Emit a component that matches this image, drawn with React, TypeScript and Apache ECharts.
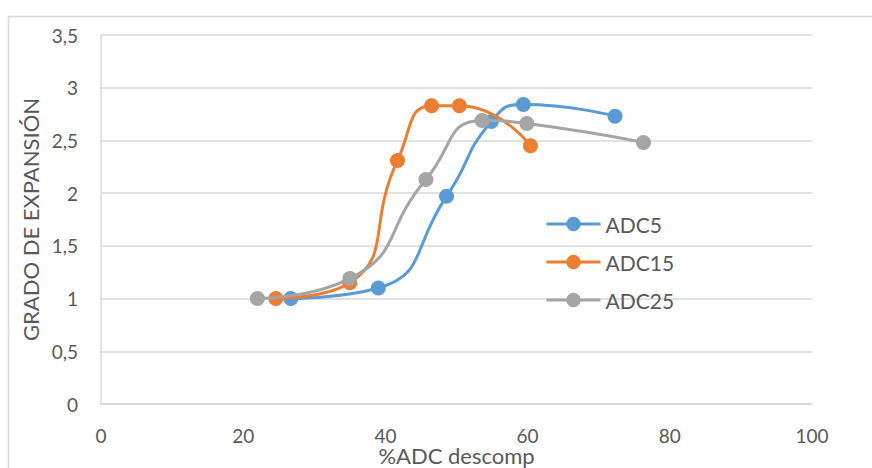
import React, { useEffect, useRef } from "react";
import * as echarts from "echarts";

// %ADC descomp (x) vs grado de expansión (y) for each series
const adc5X = [26.7, 39.0, 48.6, 54.9, 59.4, 72.3];
const adc5Y = [1.0, 1.1, 1.97, 2.68, 2.84, 2.73];

const adc15X = [24.6, 35.0, 41.7, 46.5, 50.4, 60.4];
const adc15Y = [1.0, 1.15, 2.31, 2.83, 2.83, 2.45];

const adc25X = [22.0, 35.0, 45.7, 53.6, 59.9, 76.3];
const adc25Y = [1.0, 1.19, 2.13, 2.69, 2.66, 2.48];

const seriesNames = ["ADC5", "ADC15", "ADC25"];
const seriesColors = ["#5B9BD5", "#ED7D31", "#A5A5A5"];

const xTitle = "%ADC descomp";
const yTitle = "GRADO DE EXPANSIÓN";

const FONT = "Lato, 'Open Sans', sans-serif";
const TEXT = "#595959";
const GRID = "#d9d9d9";

const pairs = (xs: number[], ys: number[]) => xs.map((x, i) => [x, ys[i]]);

export default function App() {
  const ref = useRef<HTMLDivElement>(null);

  useEffect(() => {
    if (!ref.current) return;
    const chart = echarts.init(ref.current, null, { renderer: "svg" });
    const data = [pairs(adc5X, adc5Y), pairs(adc15X, adc15Y), pairs(adc25X, adc25Y)];

    chart.setOption({
      animation: false,
      backgroundColor: "#ffffff",
      textStyle: { fontFamily: FONT },
      graphic: [
        {
          type: "rect",
          shape: { x: 8.5, y: 16.5, width: 900, height: 500 },
          style: { fill: "none", stroke: GRID, lineWidth: 1.5 },
          silent: true,
        },
      ],
      grid: {
        left: 101,
        right: 60,
        top: 35,
        bottom: 64,
        containLabel: false,
        outerBoundsMode: "none",
      },
      legend: {
        orient: "vertical",
        left: 545,
        top: 212,
        padding: 0,
        itemWidth: 54,
        itemHeight: 18,
        itemGap: 14,
        lineStyle: { width: 3 },
        textStyle: { color: TEXT, fontSize: 21, lineHeight: 24, fontFamily: FONT },
        data: seriesNames,
      },
      xAxis: {
        type: "value",
        min: 0,
        max: 100,
        interval: 20,
        name: xTitle,
        nameLocation: "middle",
        nameGap: 40,
        nameMoveOverlap: false,
        nameTextStyle: { color: TEXT, fontSize: 22, fontFamily: FONT },
        axisLine: { show: true, lineStyle: { color: GRID, width: 1.5 } },
        axisTick: { show: false },
        splitLine: { show: false },
        axisLabel: { color: TEXT, fontSize: 19, margin: 22, fontFamily: FONT },
      },
      yAxis: {
        type: "value",
        min: 0,
        max: 3.5,
        interval: 0.5,
        name: yTitle,
        nameLocation: "middle",
        nameGap: 60,
        nameMoveOverlap: false,
        nameTextStyle: { color: TEXT, fontSize: 22, fontFamily: FONT },
        axisLine: { show: true, lineStyle: { color: GRID, width: 1.5 } },
        axisTick: { show: false },
        splitLine: { show: true, lineStyle: { color: GRID, width: 1.5 } },
        axisLabel: {
          color: TEXT,
          fontSize: 19,
          margin: 23,
          fontFamily: FONT,
          formatter: (v: number) => String(v).replace(".", ","),
        },
      },
      series: seriesNames.map((name, i) => ({
        name,
        type: "line",
        data: data[i],
        smooth: 0.55,
        symbol: "circle",
        symbolSize: 15,
        lineStyle: { color: seriesColors[i], width: 3 },
        itemStyle: { color: seriesColors[i] },
        z: 2 + i,
      })),
    });

    return () => chart.dispose();
  }, []);

  return (
    <div
      ref={ref}
      style={{ position: "fixed", left: 0, top: 0, width: 872, height: 468 }}
    />
  );
}
